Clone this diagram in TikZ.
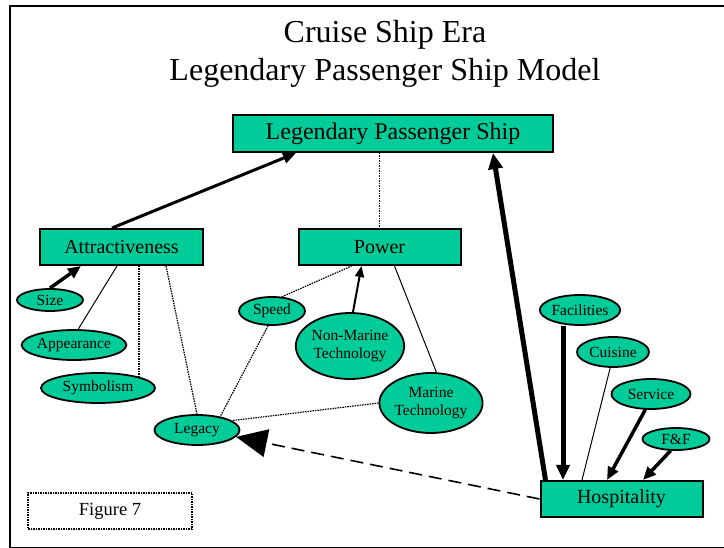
\documentclass[tikz,border=0pt]{standalone}
\usepackage{fontspec}
\setmainfont{Liberation Serif}
\usetikzlibrary{arrows.meta,calc,shapes.geometric}
\definecolor{shipgreen}{RGB}{0,204,153}
\begin{document}
\begin{tikzpicture}[x=1pt,y=1pt,yscale=-1,
  factor/.style={draw,line width=2pt,fill=shipgreen,inner sep=0pt,minimum height=36pt,font=\fontsize{20}{24}\selectfont},
  trait/.style={draw,ellipse,line width=1.8pt,fill=shipgreen,inner sep=0pt,font=\fontsize{15.5}{18}\selectfont,align=center},
  dotline/.style={line width=1.2pt,dash pattern={on 1.5pt off 1pt}},
  thinline/.style={line width=1pt},
  heavy/.style={line width=#1,-{Triangle[length=13pt,width=11pt]}}]
\useasboundingbox (0,0) rectangle (724,548);

%Shape: Frame
\draw [line width=2pt] (9.5,6) rectangle (726,547.5);

% Text Node
\node (title) at (385,54) [align=center,font=\fontsize{32}{38}\selectfont] {Cruise Ship Era\\Legendary Passenger Ship Model};

%Shape: Rectangle
\node (lps) at (393,133.5) [factor,minimum width=320pt,minimum height=37pt,font=\fontsize{24}{28}\selectfont] {Legendary Passenger Ship};
\node (attr) at (121.5,247) [factor,minimum width=163pt] {Attractiveness};
\node (power) at (379.5,247) [factor,minimum width=162pt] {Power};
\node (hosp) at (621.5,499) [factor,minimum width=162pt] {Hospitality};
\node (fig) at (110,511) [draw,dotline,line width=1.6pt,minimum width=164pt,minimum height=36pt,font=\fontsize{18.5}{22}\selectfont] {Figure 7};

%Shape: Ellipse
\node (size) at (50,300) [trait,minimum width=66pt,minimum height=22pt] {Size};
\node (app) at (74,345) [trait,minimum width=102pt,minimum height=30pt] {Appearance};
\node (sym) at (98,388) [trait,minimum width=114pt,minimum height=30pt] {Symbolism};
\node (legacy) at (197,430) [trait,minimum width=85pt,minimum height=30pt] {Legacy};
\node (speed) at (272,311) [trait,minimum width=66pt,minimum height=28pt] {Speed};
\node (nmt) at (350,346) [trait,minimum width=103pt,minimum height=66pt] {Non-Marine\\Technology};
\node (mt) at (431,403) [trait,minimum width=96pt,minimum height=60pt] {Marine\\Technology};
\node (fac) at (580,310) [trait,minimum width=79pt,minimum height=30pt] {Facilities};
\node (cui) at (613,352) [trait,minimum width=72pt,minimum height=30pt] {Cuisine};
\node (ser) at (651,394) [trait,minimum width=79pt,minimum height=30pt] {Service};
\node (ff) at (676,439) [trait,minimum width=67pt,minimum height=22pt] {F\&F};

%Straight Lines
\draw [heavy=3pt] ($(attr.north west)+(73,0)$) -- ($(lps.south west)+(64,0)$);
\draw [dotline] (lps.south -| power.north) -- (power.north);
\draw [heavy=5pt,-{Triangle[length=16pt,width=14pt]}] ($(hosp.north west)+(6,0)$) -- ($(lps.south west)+(261,0)$);

\draw [heavy=3.5pt] (size.north) -- ($(attr.south west)+(42,0)$);
\draw [thinline] ($(attr.south west)+(78,0)$) -- (app.75);
\draw [dotline] (sym.north east |- attr.south) -- (sym.north east);
\draw [dotline] ($(attr.south west)+(127,0)$) -- (legacy.north);

\draw [dotline] (speed.255) -- (legacy.30);
\draw [dotline] (speed.55) -- ($(power.south west)+(54,0)$);
\draw [heavy=2pt,-{Triangle[length=11pt,width=9pt]}] (nmt.85) -- ($(power.south west)+(64,0)$);
\draw [thinline] ($(power.south west)+(97,0)$) -- (mt.80);
\draw [dotline] (mt.west) -- (legacy.15);

%Dashed Line
\draw [line width=1.6pt,dash pattern={on 13pt off 7pt},-{Triangle[length=31pt,width=28pt]}] (hosp.west) -- (legacy.-10);

%Straight Lines
\coordinate (facin) at ($(hosp.north west)+(23.5,0)$);
\draw [heavy=5pt,-{Triangle[length=15pt,width=13pt]}] (fac.south -| facin) -- (facin);
\draw [thinline] (cui.260) -- ($(hosp.north west)+(42.5,0)$);
\draw [heavy=3.5pt] (ser.250) -- ($(hosp.north west)+(67.5,0)$);
\draw [heavy=3.5pt] (ff.245) -- ($(hosp.north west)+(103.5,0)$);

\end{tikzpicture}
\end{document}
